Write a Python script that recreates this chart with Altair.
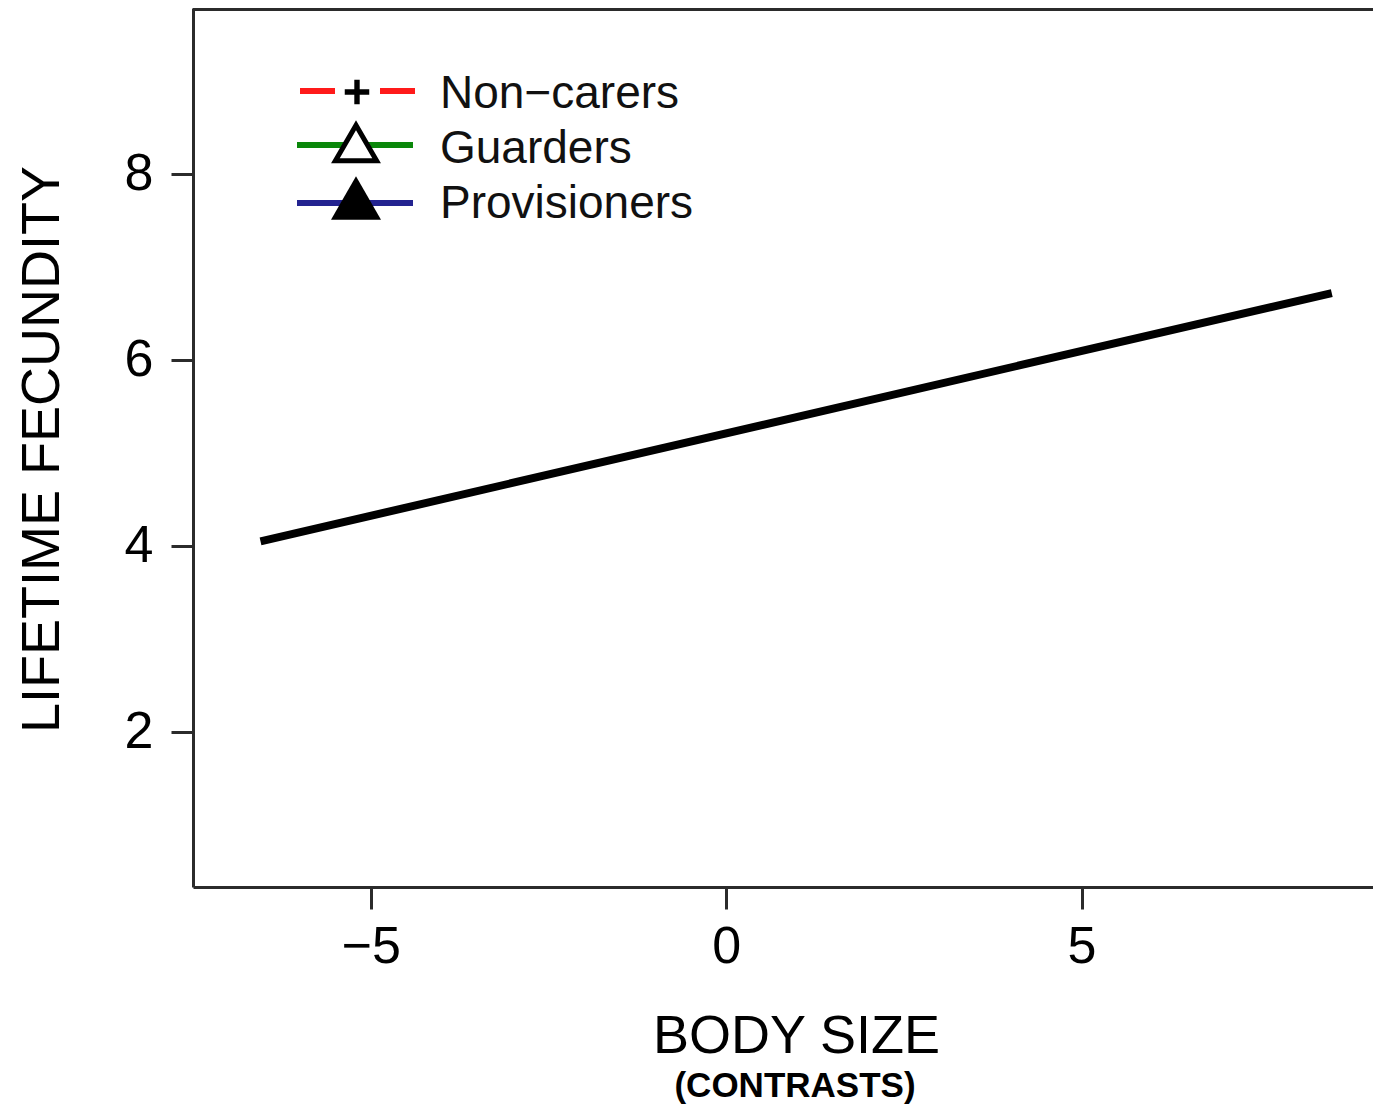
import altair as alt
import pandas as pd

# Data
body_size = [-6.55, 8.52]
fecundity = [4.05, 6.72]
legend_labels = ["Non\u2212carers", "Guarders", "Provisioners"]
x_ticks = [-5, 0, 5]
y_ticks = [2, 4, 6, 8]

W, H = 1180, 879
FONT = "Liberation Sans"
AX = "#2b2b2b"

df = pd.DataFrame({"x": body_size, "y": fecundity})
one = alt.Data(values=[{}])

xs = alt.Scale(domain=[-7.5, 9.1], nice=False, zero=False)
ys = alt.Scale(domain=[0.333, 9.785], nice=False, zero=False)

line = alt.Chart(df).mark_line(color="black", strokeWidth=8, strokeCap="butt", clip=True).encode(
    x=alt.X("x:Q", scale=xs,
            axis=alt.Axis(values=x_ticks, title="BODY SIZE", grid=False, domainColor=AX, domainWidth=3,
                          tickColor=AX, tickWidth=3, tickSize=22, labelFontSize=52, labelFont=FONT,
                          labelColor="black", labelPadding=12, titleFont=FONT, titleFontSize=54,
                          titleFontWeight="normal", titleColor="black", titleX=603, titleY=165,
                          titleBaseline="alphabetic", titleAlign="center", labelFlush=False)),
    y=alt.Y("y:Q", scale=ys,
            axis=alt.Axis(values=y_ticks, title="LIFETIME FECUNDITY", grid=False, domainColor=AX, domainWidth=3,
                          tickColor=AX, tickWidth=3, tickSize=22, labelFontSize=52, labelFont=FONT,
                          labelColor="black", labelPadding=18, titleFont=FONT, titleFontSize=54,
                          titleFontWeight="normal", titleColor="black", titleX=-135, titleY=441,
                          titleAngle=270, titleBaseline="alphabetic", titleAlign="center", labelFlush=False)),
)

top_border = alt.Chart(one).mark_rule(color=AX, strokeWidth=3).encode(
    x=alt.value(0), x2=alt.value(W + 10), y=alt.value(1.5))

contrasts = alt.Chart(one).mark_text(text="(CONTRASTS)", font=FONT, fontSize=35, fontWeight="bold",
                                     color="black", align="center", baseline="alphabetic").encode(
    x=alt.value(602), y=alt.value(1089))

# Legend
red_line = alt.Chart(one).mark_rule(color="#ff1a1a", strokeWidth=6, strokeDash=[35, 45]).encode(
    x=alt.value(107), x2=alt.value(222), y=alt.value(83))
plus = alt.Chart(one).mark_point(
    shape="M-1,-0.22H-0.22V-1H0.22V-0.22H1V0.22H0.22V1H-0.22V0.22H-1Z",
    filled=True, color="black", size=600, opacity=1).encode(x=alt.value(164), y=alt.value(84))
green_line = alt.Chart(one).mark_rule(color="#0a870a", strokeWidth=6).encode(
    x=alt.value(104), x2=alt.value(220), y=alt.value(137))
open_tri = alt.Chart(one).mark_point(shape="triangle-up", filled=True, fill="white", stroke="black",
                                     strokeWidth=5, size=1700, opacity=1).encode(
    x=alt.value(163), y=alt.value(135))
blue_line = alt.Chart(one).mark_rule(color="#232390", strokeWidth=6).encode(
    x=alt.value(104), x2=alt.value(220), y=alt.value(195))
fill_tri = alt.Chart(one).mark_point(shape="triangle-up", filled=True, color="black", size=2500,
                                     opacity=1).encode(x=alt.value(163), y=alt.value(190))

texts = []
for lbl, yy in zip(legend_labels, [100, 155, 210]):
    texts.append(alt.Chart(one).mark_text(text=lbl, font=FONT, fontSize=46, color="#111111",
                                          align="left", baseline="alphabetic").encode(
        x=alt.value(247), y=alt.value(yy)))

chart = alt.layer(line, top_border, contrasts, red_line, plus, green_line, open_tri, blue_line, fill_tri,
                  *texts).properties(
    width=W, height=H,
    autosize=alt.AutoSizeParams(type="none"),
    padding={"left": 185, "top": 0, "right": 0, "bottom": 217},
).configure_view(stroke=None).configure(background="white")

chart.save("out.html", embed_options={"renderer": "svg", "actions": False})
